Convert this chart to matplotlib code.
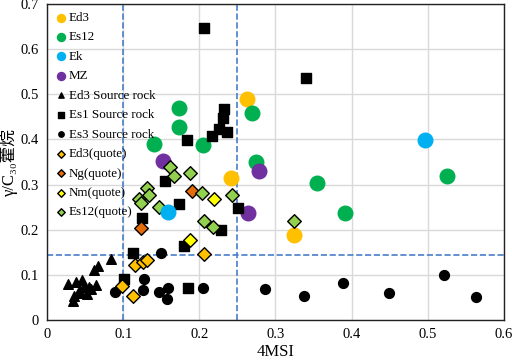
import matplotlib.pyplot as plt

plt.rcParams['font.family'] = ['Liberation Serif', 'Noto Sans CJK SC', 'DejaVu Sans']

# sample groups (4MSI, gamma/C30 hopane)
ed3_x = [0.262, 0.241, 0.324]
ed3_y = [0.489, 0.315, 0.189]
es12_x = [0.173, 0.173, 0.140, 0.205, 0.269, 0.274, 0.354, 0.391, 0.525]
es12_y = [0.469, 0.427, 0.389, 0.387, 0.458, 0.351, 0.304, 0.238, 0.318]
ek_x = [0.496, 0.159]
ek_y = [0.398, 0.240]
mz_x = [0.152, 0.278, 0.264]
mz_y = [0.353, 0.329, 0.238]

# source rocks
ed3_sr_x = [0.084, 0.067, 0.062, 0.028, 0.038, 0.046, 0.049, 0.055, 0.064,
            0.043, 0.035, 0.034, 0.053, 0.040, 0.058]
ed3_sr_y = [0.135, 0.120, 0.111, 0.080, 0.084, 0.089, 0.073, 0.073, 0.078,
            0.064, 0.053, 0.043, 0.058, 0.060, 0.068]
es1_sr_x = [0.206, 0.340, 0.232, 0.231, 0.226, 0.236, 0.216, 0.184, 0.155,
            0.173, 0.125, 0.251, 0.228, 0.180, 0.113, 0.185, 0.101]
es1_sr_y = [0.646, 0.535, 0.467, 0.448, 0.422, 0.417, 0.407, 0.399, 0.309,
            0.258, 0.226, 0.249, 0.200, 0.163, 0.148, 0.070, 0.091]
es3_sr_x = [0.150, 0.127, 0.126, 0.147, 0.159, 0.157, 0.205, 0.089,
            0.286, 0.337, 0.389, 0.449, 0.521, 0.563]
es3_sr_y = [0.149, 0.091, 0.067, 0.062, 0.071, 0.046, 0.071, 0.062,
            0.069, 0.054, 0.082, 0.060, 0.100, 0.052]

# quoted data
ed3_q_x = [0.115, 0.126, 0.131, 0.113, 0.098, 0.206]
ed3_q_y = [0.122, 0.129, 0.132, 0.053, 0.076, 0.147]
ng_q_x = [0.191, 0.124]
ng_q_y = [0.285, 0.203]
nm_q_x = [0.219, 0.188]
nm_q_y = [0.267, 0.178]
es12_q_x = [0.161, 0.167, 0.131, 0.134, 0.121, 0.123, 0.147, 0.188, 0.203,
            0.243, 0.206, 0.218, 0.324]
es12_q_y = [0.338, 0.320, 0.293, 0.276, 0.269, 0.260, 0.251, 0.326, 0.282,
            0.276, 0.220, 0.207, 0.220]

fig, ax = plt.subplots(figsize=(5.12, 3.62), dpi=100)
fig.subplots_adjust(left=0.092, right=0.984, top=0.989, bottom=0.116)

big = 110
ax.scatter(ed3_x, ed3_y, s=big, c='#FFC000', label='Ed3', zorder=3)
ax.scatter(es12_x, es12_y, s=big, c='#00B050', label='Es12', zorder=3)
ax.scatter(ek_x, ek_y, s=big, c='#00B0F0', label='Ek', zorder=4)
ax.scatter(mz_x, mz_y, s=big, c='#7030A0', label='MZ', zorder=3)
ax.scatter(ed3_sr_x, ed3_sr_y, s=48, marker='^', c='black', label='Ed3 Source rock', zorder=3)
ax.scatter(es1_sr_x, es1_sr_y, s=55, marker='s', c='black', label='Es1 Source rock', zorder=3)
ax.scatter(es3_sr_x, es3_sr_y, s=50, marker='o', c='black', label='Es3 Source rock', zorder=3)
dkw = dict(s=48, marker='D', edgecolors='black', linewidths=1.0, zorder=3)
ax.scatter(ed3_q_x, ed3_q_y, c='#FFC000', label='Ed3(quote)', **dkw)
ax.scatter(ng_q_x, ng_q_y, c='#E46C0A', label='Ng(quote)', **dkw)
ax.scatter(nm_q_x, nm_q_y, c='#FFFF00', label='Nm(quote)', **dkw)
ax.scatter(es12_q_x, es12_q_y, c='#92D050', label='Es12(quote)', **dkw)

# threshold lines
ax.axvline(0.1, color='#4A7EC9', ls='--', lw=1.2, zorder=2)
ax.axvline(0.25, color='#4A7EC9', ls='--', lw=1.2, zorder=2)
ax.axhline(0.145, color='#4A7EC9', ls='--', lw=1.2, zorder=2)

ax.set_xlim(0, 0.6)
ax.set_ylim(0, 0.7)
ax.set_xticks([0, 0.1, 0.2, 0.3, 0.4, 0.5, 0.6])
ax.set_yticks([0, 0.1, 0.2, 0.3, 0.4, 0.5, 0.6, 0.7])
ax.set_xticklabels(['0', '0.1', '0.2', '0.3', '0.4', '0.5', '0.6'])
ax.set_yticklabels(['0', '0.1', '0.2', '0.3', '0.4', '0.5', '0.6', '0.7'])
ax.tick_params(length=0, labelsize=10.5, pad=6)
ax.grid(True, color='#D9D9D9', lw=1.0, zorder=0)
ax.set_axisbelow(True)
for sp in ax.spines.values():
    sp.set_color('#222222')
    sp.set_linewidth(1.0)

ax.set_xlabel('4MSI', fontsize=12, labelpad=2)
ax.set_ylabel('γ/C₃₀藿烷', fontsize=12, labelpad=2)

ax.legend(loc='upper left', frameon=False, fontsize=9.4, markerscale=0.55,
          handletextpad=0.05, handlelength=1.0, labelspacing=0.56,
          borderaxespad=0.2, borderpad=0.4)

plt.savefig('out.png', dpi=100)
